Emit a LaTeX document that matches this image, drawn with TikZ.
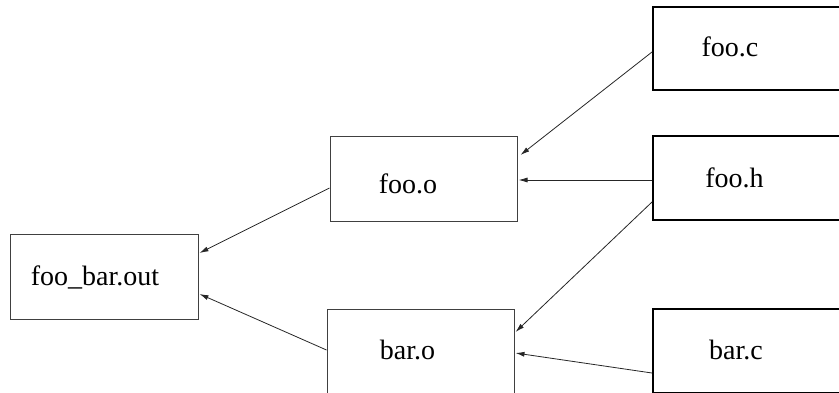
\documentclass[tikz,border=0pt]{standalone}
\usepackage{fontspec}
\setmainfont{Liberation Serif}
\usetikzlibrary{arrows.meta}
\begin{document}
\begin{tikzpicture}[x=1pt,y=-1pt,
  objbox/.style={draw=black!75,line width=1pt,rectangle,inner sep=0pt,
    minimum width=187pt,minimum height=85pt},
  srcbox/.style={draw=black,line width=2pt,rectangle,inner sep=0pt,
    minimum width=189pt,minimum height=84pt},
  fname/.style={anchor=base,inner sep=0pt,font=\fontsize{28}{30}\selectfont},
  dep/.style={draw=black!85,line width=0.8pt,-{Latex[length=9pt,width=5pt]}}]
\useasboundingbox (0,0) rectangle (839,392);
\clip (0,0) rectangle (839,392);

% boxes
\node[objbox,minimum width=188pt] (out) at (104,276.5) {};
\node[objbox] (fooo) at (423.5,178.5) {};
\node[objbox] (baro) at (420.5,351.5) {};
\node[srcbox,minimum height=83pt] (fooc) at (747.5,48.5) {};
\node[srcbox] (fooh) at (747.5,178) {};
\node[srcbox] (barc) at (747.5,351) {};

% file names
\node[fname] (outname) at (95,285) {foo\_bar.out};
\node[fname] (fooname) at (408,193) {foo.o};
\node[fname] (barname) at (407.5,359) {bar.o};
\node[fname] (foocname) at (730,56) {foo.c};
\node[fname] (foohname) at (734.5,187) {foo.h};
\node[fname] (barcname) at (736,359) {bar.c};

% dependencies
\draw[dep] ([yshift=-3.5pt]fooc.west) -- ([xshift=3pt,yshift=23.5pt]fooo.east);
\draw[dep] ([yshift=-2pt]fooh.west) -- ([xshift=1pt,yshift=-1.5pt]fooo.east);
\draw[dep] ([yshift=-24pt]fooh.west) -- ([xshift=1pt,yshift=19.5pt]baro.east);
\draw[dep] ([yshift=-22pt]barc.west) -- ([xshift=1pt,yshift=-1.5pt]baro.east);
\draw[dep] ([yshift=-9.5pt]fooo.west) -- ([xshift=1pt,yshift=23.5pt]out.east);
\draw[dep] ([yshift=1.5pt]baro.west) -- ([xshift=1pt,yshift=-17.5pt]out.east);
\end{tikzpicture}
\end{document}
